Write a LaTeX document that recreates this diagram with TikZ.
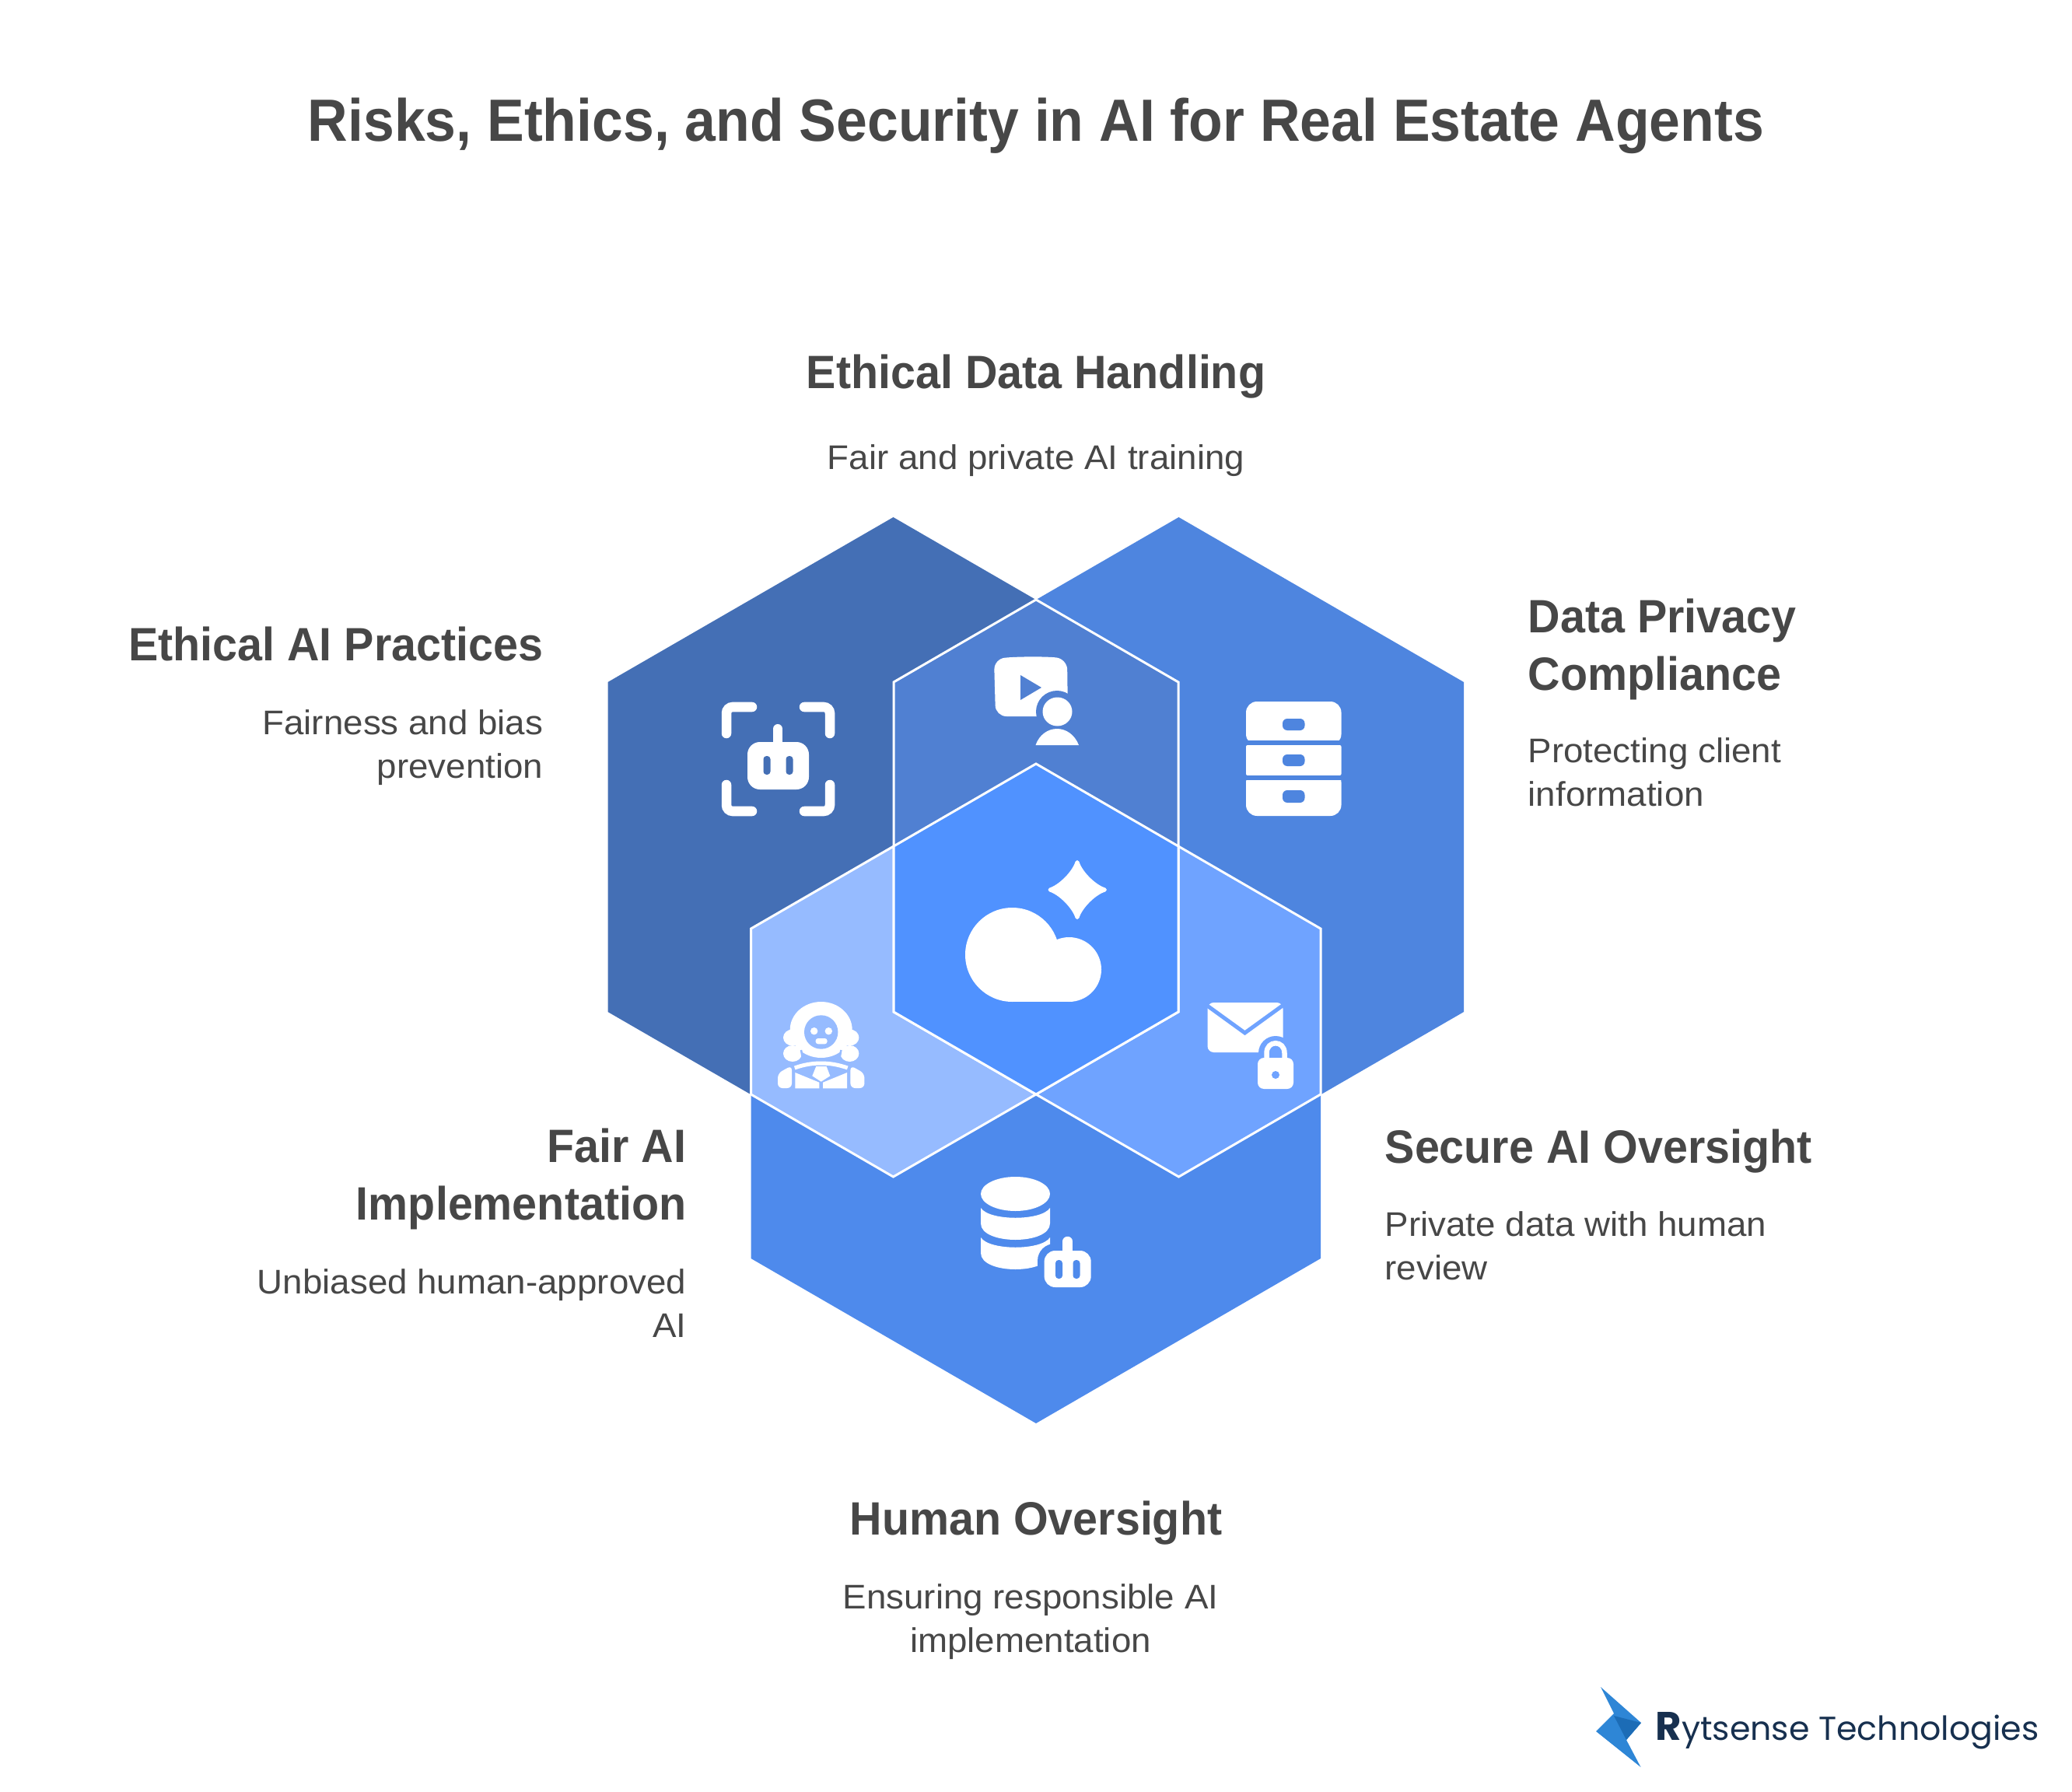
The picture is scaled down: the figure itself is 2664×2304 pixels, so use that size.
\documentclass[tikz,border=0pt]{standalone}
\usepackage{fontspec}
\setmainfont{Liberation Sans}
\newfontfamily\logofont{Poppins}
\newfontfamily\titlefont{Liberation Sans}[FakeStretch=0.933]
\newfontfamily\headfont{Liberation Sans}[FakeStretch=0.955]
\newfontfamily\subfont{Liberation Sans}[FakeStretch=1.04]
\usetikzlibrary{calc}
\definecolor{hexleft}{HTML}{446FB5}
\definecolor{hexright}{HTML}{4E85DF}
\definecolor{hexbottom}{HTML}{4E8AEC}
\definecolor{overtop}{HTML}{5080D2}
\definecolor{overmid}{HTML}{5092FF}
\definecolor{overleft}{HTML}{96BBFF}
\definecolor{overright}{HTML}{6FA3FF}
\definecolor{inkgray}{HTML}{474747}
\definecolor{logonavy}{HTML}{17304F}
\tikzset{
	seam/.style={draw=white, line width=0.03cm, line join=miter},
	titletext/.style={inner sep=0, text=inkgray, font=\fontsize{21.8pt}{26pt}\titlefont\bfseries},
	headtext/.style={inner sep=0, text=inkgray, font=\fontsize{17.1pt}{20.77pt}\headfont\bfseries},
	subtext/.style={inner sep=0, text=inkgray, font=\fontsize{12.5pt}{15.9pt}\subfont},
	bracket/.style={draw=white, line width=0.125cm, line cap=round, rounded corners=0.08cm},
}
\begin{document}
\begin{tikzpicture}[x=0.01cm, y=-0.01cm]
	%%%%% START %%%%%
	\useasboundingbox (0, 0) rectangle (2664, 2304);

	\fill[hexleft] (781.5, 877) -- (1148.5, 665) -- (1515, 877) -- (1515, 1301) -- (1148.5, 1513) -- (781.5, 1301) -- cycle;
	\fill[hexright] (1149, 877) -- (1515.5, 665) -- (1882, 877) -- (1882, 1301) -- (1515.5, 1513) -- (1149, 1301) -- cycle;
	\fill[hexbottom] (965.5, 1194) -- (1332, 982) -- (1698, 1194) -- (1698, 1618) -- (1332, 1830) -- (965.5, 1618) -- cycle;

	\filldraw[seam, fill=overtop] (1332, 771) -- (1515, 877) -- (1515, 1301) -- (1332, 1407) -- (1149, 1301) -- (1149, 877) -- cycle;
	\filldraw[seam, fill=overleft] (1149, 1088) -- (1149, 1301) -- (1332, 1407) -- (1148.5, 1513) -- (965.5, 1407) -- (965.5, 1194) -- cycle;
	\filldraw[seam, fill=overright] (1515, 1088) -- (1515, 1301) -- (1332, 1407) -- (1515.5, 1513) -- (1698, 1407) -- (1698, 1194) -- cycle;
	\filldraw[seam, fill=overmid] (1332, 982) -- (1515, 1088) -- (1515, 1301) -- (1332, 1407) -- (1149, 1301) -- (1149, 1088) -- cycle;

	% scan frame with robot
	\draw[bracket] (934, 943) -- (934, 909) -- (967, 909);
	\draw[bracket] (1067, 943) -- (1067, 909) -- (1034, 909);
	\draw[bracket] (934, 1009) -- (934, 1043) -- (967, 1043);
	\draw[bracket] (1067, 1009) -- (1067, 1043) -- (1034, 1043);
	\draw[white, line width=0.12cm, line cap=round] (1000, 937) -- (1000, 960);
	\fill[white, rounded corners=0.16cm] (961, 954) rectangle (1040, 1015);
	\fill[hexleft, rounded corners=0.04cm] (981.5, 972) rectangle (990.5, 996);
	\fill[hexleft, rounded corners=0.04cm] (1010.5, 972) rectangle (1019.5, 996);

	% video with viewer
	\fill[white, rounded corners=0.14cm] (1278, 847) .. controls (1310, 844) and (1345, 844) .. (1372, 847) -- (1373, 921) -- (1280, 921) -- cycle;
	\fill[overtop] (1312, 868) -- (1339, 884) -- (1312, 900) -- cycle;
	\fill[overtop] (1359, 915) circle (27);
	\fill[white] (1359.5, 915) ellipse [x radius=19, y radius=18.5];
	\fill[white] (1331.5, 958) .. controls (1336, 945) and (1347, 937) .. (1359, 937) .. controls (1371, 937) and (1382, 945) .. (1387, 958) -- cycle;

	% drawers
	\fill[white, rounded corners=0.14cm] (1602, 958) -- (1602, 902) -- (1724.5, 902) -- (1724.5, 958) -- cycle;
	\fill[white, rounded corners=0.14cm] (1602, 992) -- (1602, 1049) -- (1724.5, 1049) -- (1724.5, 992) -- cycle;
	\fill[hexright] (1600, 952) rectangle (1727, 958);
	\fill[white, rounded corners=0.02cm] (1602, 958) rectangle (1724.5, 997);
	\fill[hexright] (1600, 997) rectangle (1727, 1003);
	\fill[hexright, rounded corners=0.06cm] (1649, 924) rectangle (1677.5, 939);
	\fill[hexright, rounded corners=0.06cm] (1649, 970) rectangle (1677.5, 985);
	\fill[hexright, rounded corners=0.06cm] (1649, 1016) rectangle (1677.5, 1032);

	% cloud and sparkle
	\fill[white] (1301.5, 1227.5) circle (60.5);
	\fill[white] (1374.5, 1246.5) circle (41.5);
	\fill[white] (1301.5, 1215) rectangle (1374.5, 1288);
	\filldraw[white, line width=0.05cm, line join=round] (1385, 1108.5) .. controls (1389, 1122) and (1407, 1140) .. (1420.5, 1144) .. controls (1407, 1148) and (1389, 1166) .. (1385, 1179.5) .. controls (1381, 1166) and (1363, 1148) .. (1350, 1144) .. controls (1363, 1140) and (1381, 1122) .. (1385, 1108.5) -- cycle;

	% envelope with padlock
	\fill[white, rounded corners=0.08cm] (1552.5, 1289) rectangle (1649.5, 1353);
	\draw[overright, line width=0.05cm] (1548, 1290) -- (1600.5, 1328) -- (1653, 1290);
	\fill[overright] (1640, 1354) circle (22);
	\fill[overright] (1618, 1354) rectangle (1662, 1400);
	\draw[white, line width=0.065cm] (1628.5, 1365) -- (1628.5, 1354) .. controls (1628.5, 1337) and (1651.5, 1337) .. (1651.5, 1354) -- (1651.5, 1365);
	\fill[white, rounded corners=0.08cm] (1617, 1360) rectangle (1663, 1400);
	\fill[overright] (1640, 1382) circle (5);

	% person in wig
	\fill[white] (1055.7, 1324) ellipse [x radius=40, y radius=36];
	\fill[white] (1019, 1334) ellipse [x radius=12, y radius=10.5];
	\fill[white] (1019, 1354.5) ellipse [x radius=12, y radius=10.5];
	\fill[white] (1092.4, 1334) ellipse [x radius=12, y radius=10.5];
	\fill[white] (1092.4, 1354.5) ellipse [x radius=12, y radius=10.5];
	\draw[overleft, line width=0.025cm] (1030, 1350) -- (1033, 1367);
	\draw[overleft, line width=0.025cm] (1081.4, 1350) -- (1078.4, 1367);
	\fill[white] (1055.7, 1331) circle (27);
	\fill[overleft] (1055.7, 1327) circle (21.7);
	\fill[white] (1046.7, 1325.7) circle (4.7);
	\fill[white] (1065.3, 1325.7) circle (4.7);
	\fill[white, rounded corners=0.03cm] (1048.7, 1335) rectangle (1063.5, 1342.3);
	\fill[white, rounded corners=0.06cm] (1000, 1399) -- (1000, 1380) -- (1018, 1370) -- (1018, 1399) -- cycle;
	\fill[white, rounded corners=0.06cm] (1111.4, 1399) -- (1111.4, 1380) -- (1093.4, 1370) -- (1093.4, 1399) -- cycle;
	\draw[white, line width=0.05cm] (1021.7, 1373) .. controls (1044, 1365) and (1067, 1365) .. (1089.7, 1373);
	\fill[white] (1022.3, 1379) -- (1053.3, 1391.7) -- (1053.3, 1399.3) -- (1022.3, 1399.3) -- cycle;
	\fill[white] (1089.1, 1379) -- (1058.1, 1391.7) -- (1058.1, 1399.3) -- (1089.1, 1399.3) -- cycle;
	\fill[white] (1049.3, 1371) -- (1062.6, 1371) -- (1067.3, 1383.3) -- (1055.7, 1390.7) -- (1044.3, 1383.3) -- cycle;

	% database with robot
	\fill[white] (1305.5, 1535) ellipse [x radius=44.5, y radius=22];
	\fill[white] (1261, 1553) .. controls (1272, 1570) and (1339, 1570) .. (1350, 1553) -- (1350, 1573) .. controls (1350, 1601) and (1261, 1601) .. (1261, 1573) -- cycle;
	\fill[white] (1261, 1591) .. controls (1272, 1608) and (1339, 1608) .. (1350, 1591) -- (1350, 1611) .. controls (1350, 1639) and (1261, 1639) .. (1261, 1611) -- cycle;
	\fill[hexbottom, rounded corners=0.22cm] (1334, 1599) rectangle (1412, 1664);
	\draw[white, line width=0.125cm, line cap=round] (1372.7, 1596) -- (1372.7, 1615);
	\fill[white, rounded corners=0.14cm] (1342.6, 1608) rectangle (1402.7, 1655);
	\fill[hexbottom, rounded corners=0.04cm] (1357, 1620) rectangle (1366, 1644);
	\fill[hexbottom, rounded corners=0.04cm] (1379.5, 1620) rectangle (1388.5, 1644);

	% texts
	\node[titletext, anchor=base] (maintitle) at (1332, 182) {Risks, Ethics, and Security in AI for Real Estate Agents};

	\node[headtext, anchor=base] (ethicaldata) at (1332, 500) {Ethical Data Handling};
	\node[subtext, anchor=base] (ethicaldatasub) at (1332, 604) {Fair and private AI training};

	\node[headtext, anchor=base east] (ethicalai) at (699, 850) {Ethical AI Practices};
	\node[subtext, anchor=base east, align=right] (ethicalaisub) at (699, 1000) {Fairness and bias\\prevention};

	\node[headtext, anchor=base west, align=left] (privacy) at (1964, 887) {Data Privacy\\Compliance};
	\node[subtext, anchor=base west, align=left] (privacysub) at (1964, 1036) {Protecting client\\information};

	\node[headtext, anchor=base east, align=right] (fairai) at (883, 1568) {Fair AI\\Implementation};
	\node[subtext, anchor=base east, align=right] (fairaisub) at (883, 1719) {Unbiased human-approved\\AI};

	\node[headtext, anchor=base west] (secureai) at (1780, 1495) {Secure AI Oversight};
	\node[subtext, anchor=base west, align=left] (secureaisub) at (1780, 1645) {Private data with human\\review};

	\node[headtext, anchor=base] (human) at (1332, 1973) {Human Oversight};
	\node[subtext, anchor=base, align=center] (humansub) at (1325, 2124) {Ensuring responsible AI\\implementation};

	% logo
	\fill[color={rgb,255:red,46;green,134;blue,214}] (2058, 2169) -- (2110, 2215) -- (2091, 2237) -- (2109.5, 2272) -- (2052, 2226) -- (2075, 2203) -- cycle;
	\fill[color={rgb,255:red,28;green,108;blue,182}] (2075, 2206) -- (2110, 2215) -- (2091, 2237) -- cycle;
	\node[inner sep=0, anchor=base west, text=logonavy, font=\fontsize{12.15pt}{18pt}\logofont] (logotext) at (2128, 2237) {{\fontsize{14.6pt}{18pt}\selectfont\bfseries R}ytsense Technologies};
	%%%%% END %%%%%
\end{tikzpicture}
\end{document}
